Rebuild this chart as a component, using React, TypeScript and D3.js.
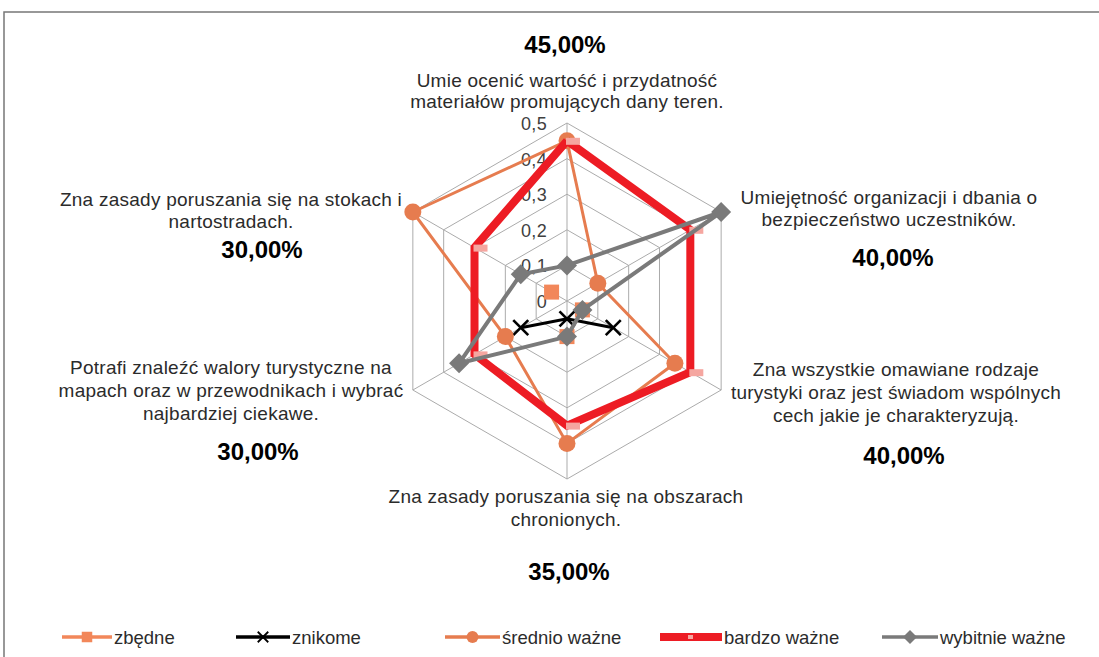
import React from "react";
import * as d3 from "d3";

const categories: string[][] = [
  ["Umie ocenić wartość i przydatność", "materiałów promujących dany teren."],
  ["Umiejętność organizacji i dbania o", "bezpieczeństwo uczestników."],
  ["Zna wszystkie omawiane rodzaje", "turystyki oraz jest świadom wspólnych", "cech jakie je charakteryzują."],
  ["Zna zasady poruszania się na obszarach", "chronionych."],
  ["Potrafi znaleźć walory turystyczne na", "mapach oraz w przewodnikach i wybrać", "najbardziej ciekawe."],
  ["Zna zasady poruszania się na stokach i", "nartostradach."],
];

const seriesNames = ["zbędne", "znikome", "średnio ważne", "bardzo ważne", "wybitnie ważne"];
const zbedne: (number | null)[] = [null, null, 0.05, 0.1, null, 0.05];
const znikome: (number | null)[] = [null, null, 0.15, 0.05, 0.15, null];
const srednio: (number | null)[] = [0.45, 0.1, 0.35, 0.4, 0.2, 0.5];
const bardzo: (number | null)[] = [0.45, 0.4, 0.4, 0.35, 0.3, 0.3];
const wybitnie: (number | null)[] = [0.1, 0.5, 0.05, 0.1, 0.35, 0.15];
const pctLabels = ["45,00%", "40,00%", "40,00%", "35,00%", "30,00%", "30,00%"];
const ticks = [0, 0.1, 0.2, 0.3, 0.4, 0.5];
const tickLabels = ["0", "0,1", "0,2", "0,3", "0,4", "0,5"];

// layout (positions only)
const W = 1099, H = 657;
const cx = 567, cy = 301, R = 178;
const catLabelPos = [
  { x: 567, y: 87, dy: 21 },
  { x: 889, y: 204, dy: 22 },
  { x: 896, y: 376, dy: 23 },
  { x: 566, y: 503, dy: 23 },
  { x: 231, y: 374, dy: 23 },
  { x: 231, y: 206, dy: 22 },
];
const pctPos = [
  { x: 565, y: 53 },
  { x: 893, y: 266 },
  { x: 904, y: 464 },
  { x: 569, y: 580 },
  { x: 258, y: 460 },
  { x: 262, y: 258 },
];
const legendX = [62, 236, 445, 660, 882];
const legendLineW = [50, 54, 55, 62, 56];
const legendY = 637;

const FONT = "'Liberation Sans', Arial, sans-serif";
const C_ZB = "#F2875A";
const C_SR = "#E67C4F";
const C_RED = "#ED1C24";
const C_PINK = "#F5A6A0";
const C_GRAY = "#7A7A7A";

const rScale = d3.scaleLinear().domain([0, 0.5]).range([0, R]);
const angle = (i: number) => (i * 2 * Math.PI) / categories.length;
const pt = (i: number, v: number): [number, number] => [
  cx + rScale(v) * Math.sin(angle(i)),
  cy - rScale(v) * Math.cos(angle(i)),
];

function closedLine(vals: (number | null)[]) {
  const arr = vals.map((v, i) => ({ v, i }));
  arr.push(arr[0]);
  const gen = d3
    .line<{ v: number | null; i: number }>()
    .defined((d) => d.v !== null)
    .x((d) => pt(d.i, d.v as number)[0])
    .y((d) => pt(d.i, d.v as number)[1]);
  return gen(arr) || "";
}

function Marker({ kind, x, y }: { kind: string; x: number; y: number }) {
  if (kind === "square")
    return <rect x={x - 7.5} y={y - 7.5} width={15} height={15} fill={C_ZB} />;
  if (kind === "x")
    return (
      <g stroke="#000" strokeWidth={2.6}>
        <line x1={x - 7.5} y1={y - 7.5} x2={x + 7.5} y2={y + 7.5} />
        <line x1={x - 7.5} y1={y + 7.5} x2={x + 7.5} y2={y - 7.5} />
      </g>
    );
  if (kind === "circle") return <circle cx={x} cy={y} r={8.5} fill={C_SR} />;
  if (kind === "dash")
    return <rect x={x - 1} y={y - 3} width={14} height={7} fill={C_PINK} />;
  if (kind === "diamond")
    return (
      <path
        d={`M${x},${y - 10}L${x + 10},${y}L${x},${y + 10}L${x - 10},${y}Z`}
        fill={C_GRAY}
      />
    );
  return null;
}

const seriesDefs = [
  { vals: zbedne, color: C_ZB, width: 3, marker: "square" },
  { vals: znikome, color: "#000000", width: 3.2, marker: "x" },
  { vals: srednio, color: C_SR, width: 3, marker: "circle" },
  { vals: bardzo, color: C_RED, width: 8, marker: "dash" },
  { vals: wybitnie, color: C_GRAY, width: 4, marker: "diamond" },
];

export default function App() {
  const n = categories.length;
  const ringPath = (v: number) =>
    d3.range(n).map((i) => pt(i, v).join(",")).join("L");
  return (
    <div style={{ position: "fixed", left: 0, top: 0 }}>
      <svg width={W} height={H} style={{ display: "block", background: "#fff" }} fontFamily={FONT}>
        <rect x={4} y={12} width={1200} height={800} fill="#fff" stroke="#777" strokeWidth={1.5} />
        {/* grid */}
        <g stroke="#ABABAB" strokeWidth={1} fill="none">
          {ticks.slice(1).map((t) => (
            <path key={t} d={`M${ringPath(t)}Z`} />
          ))}
          {d3.range(n).map((i) => {
            const [x, y] = pt(i, 0.5);
            return <line key={i} x1={cx} y1={cy} x2={x} y2={y} />;
          })}
        </g>
        {/* tick labels */}
        <g fontSize={18} fill="#404040" textAnchor="end" letterSpacing={0.3}>
          {ticks.map((t, k) => (
            <text key={t} x={cx - 20} y={pt(0, t)[1] + 7}>
              {tickLabels[k]}
            </text>
          ))}
        </g>
        {/* series */}
        {seriesDefs.map((s, si) => (
          <g key={si}>
            <path d={closedLine(s.vals)} fill="none" stroke={s.color} strokeWidth={s.width} strokeLinejoin="miter" />
            {s.vals.map((v, i) => {
              if (v === null) return null;
              const [x, y] = pt(i, v);
              return <Marker key={i} kind={s.marker} x={x} y={y} />;
            })}
          </g>
        ))}
        {/* category labels */}
        <g fontSize={19} fill="#2b2b2b" textAnchor="middle" letterSpacing={0.25}>
          {categories.map((lines, i) => (
            <text key={i} x={catLabelPos[i].x} y={catLabelPos[i].y}>
              {lines.map((l, k) => (
                <tspan key={k} x={catLabelPos[i].x} dy={k === 0 ? 0 : catLabelPos[i].dy}>
                  {l}
                </tspan>
              ))}
            </text>
          ))}
        </g>
        {/* percentage labels */}
        <g fontSize={24} fontWeight="bold" fill="#000" textAnchor="middle">
          {pctLabels.map((p, i) => (
            <text key={i} x={pctPos[i].x} y={pctPos[i].y}>
              {p}
            </text>
          ))}
        </g>
        {/* legend */}
        <g fontSize={18.5} fill="#2b2b2b">
          {seriesDefs.map((s, i) => {
            const x0 = legendX[i];
            const w = legendLineW[i];
            const mx = x0 + w / 2;
            return (
              <g key={i}>
                <line x1={x0} y1={legendY} x2={x0 + w} y2={legendY} stroke={s.color} strokeWidth={s.width === 8 ? 8 : 3.5} />
                {s.marker === "dash" ? (
                  <rect x={mx - 3} y={legendY - 2} width={5} height={4} fill={C_PINK} />
                ) : (
                  <g transform={`translate(${mx},${legendY}) scale(0.7) translate(${-mx},${-legendY})`}>
                    <Marker kind={s.marker} x={mx} y={legendY} />
                  </g>
                )}
                <text x={x0 + w + 2} y={legendY + 7}>
                  {seriesNames[i]}
                </text>
              </g>
            );
          })}
        </g>
      </svg>
    </div>
  );
}
